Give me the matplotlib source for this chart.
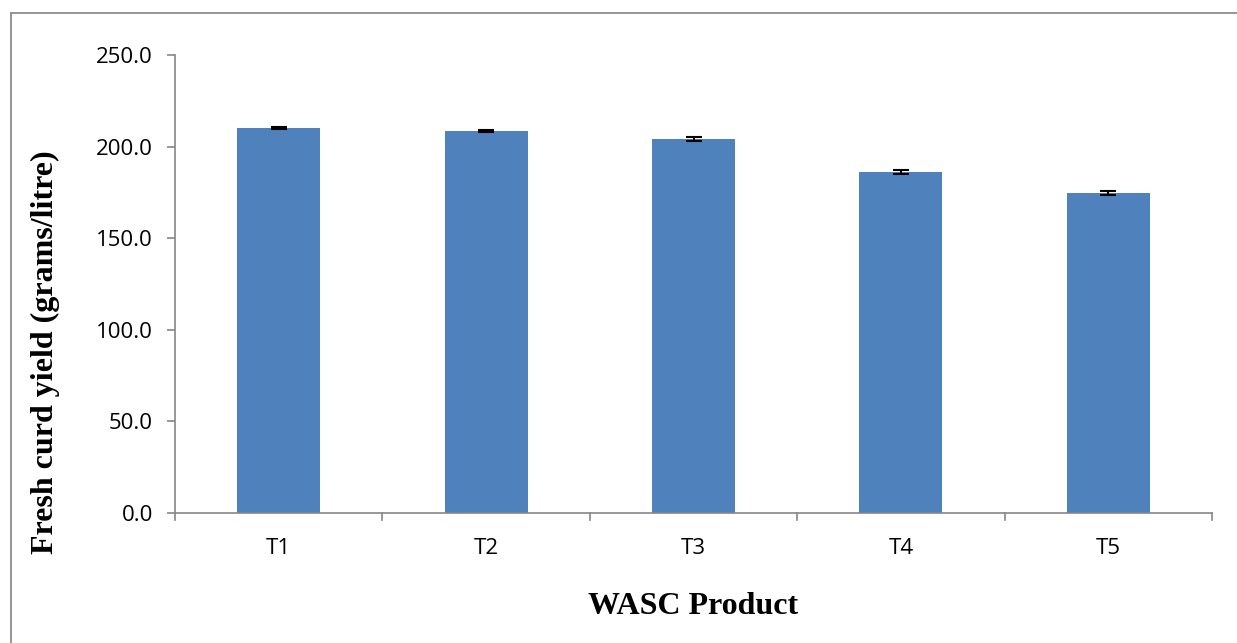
import matplotlib
matplotlib.use('Agg')
import matplotlib.pyplot as plt
from matplotlib.lines import Line2D

# data
products = ['T1', 'T2', 'T3', 'T4', 'T5']
yield_g_l = [210.2, 208.6, 204.0, 186.2, 174.6]
yield_err = [0.6, 0.6, 1.0, 1.2, 1.0]
yticks = [0, 50, 100, 150, 200, 250]

W, H = 1237, 643
fig = plt.figure(figsize=(W / 100, H / 100), dpi=100)
ax = fig.add_axes([175 / W, 1 - 513 / H, (1212 - 175) / W, (513 - 55) / H])

ax.bar(range(len(products)), yield_g_l, width=0.4, color='#4f81bd',
       yerr=yield_err, capsize=6,
       error_kw=dict(ecolor='black', elinewidth=1.5, capthick=1.5))

ax.set_xlim(-0.5, len(products) - 0.5)
ax.set_ylim(0, 250)
ax.set_yticks(yticks)
ax.set_yticklabels([f'{v:.1f}' for v in yticks])
ax.set_xticks(range(len(products)))
ax.set_xticklabels(products)
ax.tick_params(axis='x', length=0, pad=18, labelsize=16)
ax.tick_params(axis='y', length=6, width=1.2, color='#868686', pad=10, labelsize=16)
for lab in ax.get_xticklabels() + ax.get_yticklabels():
    lab.set_fontfamily('Open Sans')

# category boundary ticks on the x axis
for b in [i - 0.5 for i in range(len(products) + 1)]:
    ax.plot([b, b], [0, -4], color='#868686', lw=1.2, clip_on=False)

for s in ['top', 'right']:
    ax.spines[s].set_visible(False)
for s in ['left', 'bottom']:
    ax.spines[s].set_color('#868686')
    ax.spines[s].set_linewidth(1.2)

fig.text(693 / W, 1 - 607 / H, 'WASC Product', ha='center', va='center',
         fontfamily='Liberation Serif', fontweight='bold', fontsize=23)
fig.text(45 / W, 1 - 352 / H, 'Fresh curd yield (grams/litre)', ha='center',
         va='center', rotation=90, fontfamily='Liberation Serif',
         fontweight='bold', fontsize=23)

# chart frame (left and top edges only visible)
fig.add_artist(Line2D([11 / W, 11 / W], [0, 1 - 13 / H], color='#8c8c8c', lw=1.3))
fig.add_artist(Line2D([11 / W, 1], [1 - 13 / H, 1 - 13 / H], color='#8c8c8c', lw=1.3))

fig.savefig('out.png', dpi=100)
